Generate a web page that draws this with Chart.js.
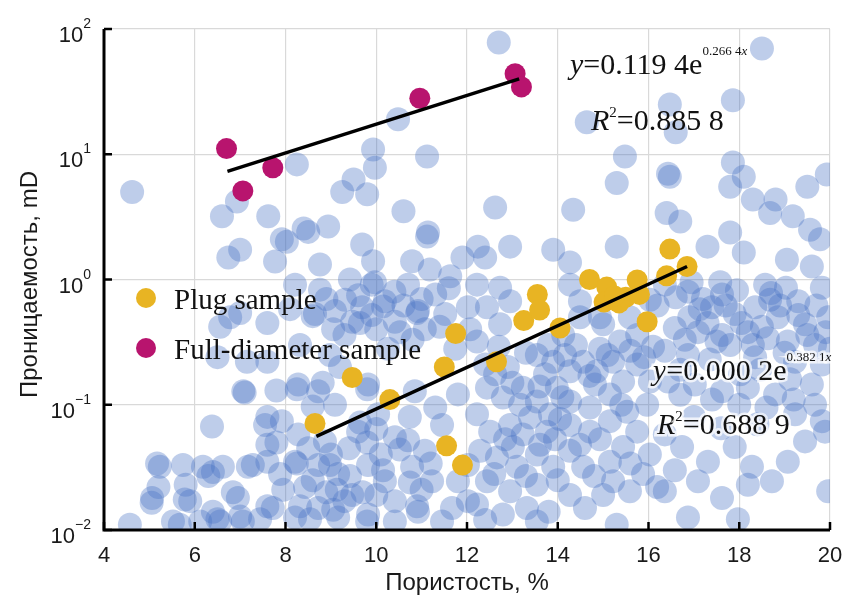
<!DOCTYPE html>
<html>
<head>
<meta charset="UTF-8">
<title>Проницаемость vs Пористость</title>
<script src="https://cdn.jsdelivr.net/npm/chart.js@4.4.1/dist/chart.umd.min.js"></script>
<style>
  body { margin: 0; background: #fff; }
  canvas { display: block; }
</style>
</head>
<body>
<canvas id="main-plot" width="849" height="596"></canvas>
<script>
// axis ticks
const xTicks = [4, 6, 8, 10, 12, 14, 16, 18, 20];
const yTicks = [0.01, 0.1, 1, 10, 100];
const yTickExp = ['\u22122', '\u22121', '0', '1', '2'];

// plug samples (yellow)
const plugSamples = [
  [8.65, 0.071], [9.47, 0.165], [10.3, 0.11], [11.5, 0.2], [11.75, 0.37],
  [11.55, 0.047], [11.9, 0.033], [12.65, 0.22], [13.25, 0.47], [13.55, 0.76],
  [13.6, 0.57], [14.05, 0.41], [14.7, 1.0], [15.08, 0.87], [15.02, 0.66],
  [15.35, 0.65], [15.5, 0.72], [15.25, 0.74], [15.75, 0.99], [15.8, 0.76],
  [15.97, 0.46], [16.4, 1.07], [16.47, 1.75], [16.85, 1.27]
];

// full-diameter samples (magenta)
const fullDiameterSamples = [
  [6.7, 11.1], [7.06, 5.1], [7.72, 7.8], [10.96, 28], [13.06, 44], [13.2, 34.5]
];

// trend lines, end points
const plugFit = [[8.68, 0.056], [16.85, 1.27]];
const fullFit = [[6.72, 7.3], [13.15, 40]];

// equations
const fullEq = { a: '0.119 4', b: '0.266 4', r2: '0.885 8' };
const plugEq = { a: '0.000 2', b: '0.382 1', r2: '0.688 9' };

// all samples of the field (light blue background)
const allSamples = [
  [12.7, 78], [18.5, 70], [16.47, 25], [17.86, 27], [16.6, 15], [14.64, 18], [10.48, 19],
  [9.93, 10.9], [8.25, 8.3], [11.12, 9.6], [9.97, 7.8], [9.5, 6.3], [9.25, 5.0], [9.8, 4.8],
  [10.6, 3.5], [8.5, 2.4], [8.94, 2.65], [11.12, 2.2], [9.69, 1.9], [9.93, 1.4], [8.76, 1.32],
  [10.79, 1.4], [11.9, 1.5], [8.03, 2.0], [4.62, 5.0], [6.93, 4.2], [6.6, 3.2], [7.62, 3.2],
  [7.92, 2.1], [7.0, 1.73], [6.74, 1.5], [7.77, 1.39], [15.3, 5.9], [15.48, 9.6], [12.62, 3.76],
  [14.34, 3.6], [15.3, 1.83], [12.95, 1.83], [12.24, 1.83], [13.9, 1.73], [12.4, 1.5], [14.27, 1.37],
  [16.47, 6.6], [16.43, 7.0], [17.86, 8.6], [18.1, 6.6], [17.8, 5.5], [19.93, 6.9], [19.5, 5.5],
  [16.4, 3.4], [16.7, 2.9], [18.3, 4.35], [18.8, 4.35], [18.68, 3.4], [17.8, 2.37], [19.18, 3.2],
  [19.56, 2.5], [19.78, 2.1], [11.14, 2.37], [17.3, 1.83], [18.1, 1.64], [19.05, 1.44], [19.6, 1.27],
  [11.18, 1.2], [11.63, 1.06], [9.42, 1.0], [9.97, 0.95], [8.4, 2.55],
  [6.78, 0.5], [6.5, 0.24], [7.15, 0.22], [7.6, 0.22], [7.1, 0.125], [7.8, 0.13], [6.38, 0.067],
  [7.55, 0.069], [7.6, 0.048], [7.92, 0.074],
  [7.07, 0.128], [8.25, 0.133], [8.6, 0.097], [7.6, 0.08], [8.82, 0.15], [9.8, 0.133],
  [10.0, 0.064], [10.74, 0.08], [9.2, 0.2], [9.05, 0.4], [9.64, 0.45], [10.15, 0.61], [10.52, 0.38],
  [10.9, 0.54], [8.6, 0.51], [8.1, 0.58], [7.6, 0.45], [7.0, 0.54], [6.56, 0.42],
  [5.17, 0.034], [5.06, 0.018], [5.78, 0.0175], [6.4, 0.029], [6.84, 0.02], [7.28, 0.033],
  [7.8, 0.05], [8.25, 0.034], [8.6, 0.025], [8.98, 0.033], [9.13, 0.021], [9.42, 0.027], [9.7, 0.02],
  [9.8, 0.05], [9.64, 0.072], [10.15, 0.03], [10.52, 0.044], [10.74, 0.024], [10.9, 0.0155],
  [9.05, 0.0145], [8.32, 0.0155], [7.95, 0.021], [7.6, 0.0155], [6.5, 0.0122], [5.52, 0.0117],
  [4.57, 0.011], [9.8, 0.0117], [8.54, 0.0122], [7.06, 0.0117],
  [5.23, 0.032], [5.74, 0.033], [6.18, 0.032], [6.3, 0.027], [6.62, 0.032], [7.17, 0.032],
  [5.2, 0.022], [5.8, 0.023], [5.05, 0.0165], [5.9, 0.017], [6.95, 0.018], [6.4, 0.014],
  [5.67, 0.011], [6.12, 0.0117], [6.56, 0.0117], [7.0, 0.0128], [7.44, 0.0122], [7.72, 0.015],
  [7.88, 0.028], [7.6, 0.035],
  [8.21, 0.91], [8.65, 0.53], [9.09, 0.56], [9.47, 0.46], [9.69, 0.6], [10.19, 0.67], [10.41, 0.46],
  [10.92, 0.56], [11.3, 0.76], [11.52, 0.53], [12.02, 0.6], [10.7, 0.91], [9.9, 0.91],
  [8.28, 0.145], [8.72, 0.128], [9.09, 0.1], [9.82, 0.145], [10.04, 0.084], [10.85, 0.128],
  [11.3, 0.095], [11.8, 0.121], [11.45, 0.069], [8.28, 0.058], [8.87, 0.051], [9.6, 0.061],
  [10.41, 0.055], [11.07, 0.043], [8.21, 0.035], [8.72, 0.033], [9.16, 0.028], [9.82, 0.033],
  [10.19, 0.0245], [10.79, 0.032], [11.23, 0.0245], [11.8, 0.0245], [8.43, 0.022], [9.47, 0.019],
  [10.41, 0.017], [8.72, 0.015], [9.82, 0.0133], [10.92, 0.014], [11.67, 0.015], [8.21, 0.0126],
  [9.16, 0.0126], [10.41, 0.0117], [11.45, 0.0117], [12.02, 0.017], [12.02, 0.033],
  [8.76, 0.83], [9.31, 0.69], [11.07, 0.4], [11.74, 0.28], [8.32, 0.3], [8.98, 0.25], [12.07, 0.4],
  [10.26, 0.28],
  [12.22, 0.91], [12.73, 0.86], [12.95, 0.67], [12.44, 0.6], [12.22, 0.32], [12.73, 0.44],
  [13.54, 0.25], [14.12, 0.36], [14.49, 0.5], [15.0, 0.44], [15.37, 0.32], [15.75, 0.36],
  [16.1, 0.29], [14.27, 0.91], [14.49, 0.67],
  [12.44, 0.137], [12.79, 0.114], [13.23, 0.137], [13.54, 0.106], [13.98, 0.137], [14.27, 0.185],
  [14.56, 0.22], [14.86, 0.185], [15.22, 0.22], [15.44, 0.153], [15.75, 0.21], [16.03, 0.153],
  [15.15, 0.121], [14.71, 0.095], [14.27, 0.106], [13.83, 0.084], [13.39, 0.079], [12.95, 0.069],
  [12.51, 0.061], [12.22, 0.084], [13.23, 0.058], [13.76, 0.061], [14.27, 0.069], [14.71, 0.061],
  [15.15, 0.074], [15.53, 0.088], [15.97, 0.1], [15.75, 0.061],
  [12.29, 0.043], [12.66, 0.038], [13.01, 0.046], [13.1, 0.032], [13.54, 0.04], [13.9, 0.032],
  [14.27, 0.043], [14.56, 0.032], [15.15, 0.035], [15.44, 0.046], [16.03, 0.04], [15.88, 0.028],
  [15.22, 0.0245], [14.27, 0.019], [13.54, 0.023], [12.95, 0.0204], [12.44, 0.0245], [12.22, 0.016],
  [12.79, 0.0133], [13.32, 0.015], [15.0, 0.019], [15.59, 0.0204], [16.19, 0.022], [13.54, 0.0117],
  [15.3, 0.011],
  [12.62, 0.175], [13.72, 0.175], [13.17, 0.1], [14.05, 0.077], [14.49, 0.048], [14.93, 0.053],
  [13.61, 0.048], [12.84, 0.053], [13.94, 0.053], [14.82, 0.145], [14.16, 0.25], [14.93, 0.28],
  [16.36, 0.91], [16.87, 0.8], [17.62, 0.76], [18.57, 0.91], [19.3, 0.67], [19.82, 0.86],
  [17.4, 0.6], [17.9, 0.53], [18.35, 0.6], [18.85, 0.5], [19.45, 0.44], [19.96, 0.5],
  [16.58, 0.41], [17.09, 0.38], [17.62, 0.36], [18.19, 0.38], [18.63, 0.34], [19.07, 0.32],
  [19.67, 0.3], [16.36, 0.27], [16.87, 0.25], [18.35, 0.24], [19.23, 0.22], [19.82, 0.21],
  [16.43, 0.153], [17.02, 0.145], [17.62, 0.128], [18.19, 0.137], [18.79, 0.121], [19.6, 0.145],
  [19.82, 0.074], [19.23, 0.084],
  [16.36, 0.058], [16.74, 0.046], [17.31, 0.035], [16.58, 0.03], [17.9, 0.046], [18.28, 0.032],
  [18.72, 0.0245], [19.07, 0.035], [19.45, 0.051], [19.89, 0.061], [17.09, 0.0245], [16.36, 0.0204],
  [17.62, 0.018], [18.19, 0.023], [19.96, 0.0204], [17.97, 0.0122], [16.87, 0.0126],
  [17.13, 0.58], [17.8, 0.3], [17.35, 0.23], [18.46, 0.19], [19.12, 0.16], [18.02, 0.175],
  [16.7, 0.19], [16.03, 0.69], [20.0, 0.28], [19.67, 0.1], [18.68, 0.69], [17.58, 0.95],
  [19.03, 0.86], [14.93, 0.5], [15.59, 0.5],
  [16.2, 0.62], [16.9, 0.5], [17.3, 0.45], [17.7, 0.62], [18.05, 0.45], [18.5, 0.42], [18.9, 0.62],
  [19.3, 0.52], [19.7, 0.62], [16.6, 0.72], [17.5, 0.32], [18.3, 0.3], [19.0, 0.26], [19.5, 0.36],
  [16.8, 0.33], [17.2, 0.7], [18.7, 0.78], [19.9, 0.38], [17.95, 0.82], [16.95, 0.95],
  [12.9, 0.2], [13.3, 0.26], [13.9, 0.22], [14.4, 0.3], [14.7, 0.17], [15.1, 0.25], [15.6, 0.27],
  [13.0, 0.15], [13.6, 0.14], [14.1, 0.115], [15.4, 0.1], [12.7, 0.29], [13.8, 0.3], [15.9, 0.24],
  [12.4, 0.21],
  [8.9, 0.7], [9.6, 0.75], [10.4, 0.8], [11.0, 0.7], [11.6, 0.85], [9.3, 0.36], [10.0, 0.4],
  [10.8, 0.33], [11.4, 0.42], [9.9, 0.52], [10.6, 0.62],
  [8.5, 0.045], [9.0, 0.04], [9.4, 0.045], [10.1, 0.04], [10.7, 0.052], [11.2, 0.034], [8.9, 0.02],
  [10.0, 0.019], [11.0, 0.021], [9.3, 0.017],
  [12.6, 0.028], [13.3, 0.027], [14.0, 0.025], [14.8, 0.027], [15.6, 0.034], [13.8, 0.014],
  [14.6, 0.015], [12.4, 0.012],
  [16.7, 0.12], [17.4, 0.11], [18.0, 0.1], [18.6, 0.095], [19.2, 0.11], [17.0, 0.08], [18.4, 0.07],
  [17.6, 0.065]
];

const toXY = arr => arr.map(p => ({ x: p[0], y: p[1] }));

const SANS = '"Liberation Sans", Arial, sans-serif';
const SERIF = '"Liberation Serif", "Times New Roman", serif';

// draws axes, tick labels, titles, legend, equations
const decorations = {
  id: 'decorations',
  afterDraw(chart) {
    const { ctx, chartArea: a, scales: { x, y } } = chart;
    ctx.save();

    // black left and bottom axes
    ctx.strokeStyle = '#000';
    ctx.lineWidth = 3;
    ctx.beginPath();
    ctx.moveTo(a.left, a.top);
    ctx.lineTo(a.left, a.bottom);
    ctx.lineTo(a.right, a.bottom);
    ctx.stroke();

    ctx.lineWidth = 2.5;
    ctx.beginPath();
    xTicks.forEach(v => {
      const px = x.getPixelForValue(v);
      ctx.moveTo(px, a.bottom);
      ctx.lineTo(px, a.bottom - 8);
    });
    yTicks.forEach(v => {
      const py = y.getPixelForValue(v);
      ctx.moveTo(a.left, py);
      ctx.lineTo(a.left + 8, py);
    });
    ctx.stroke();

    // x tick labels
    ctx.fillStyle = '#1a1a1a';
    ctx.font = '22px ' + SANS;
    ctx.textAlign = 'center';
    ctx.textBaseline = 'middle';
    xTicks.forEach(v => ctx.fillText(String(v), x.getPixelForValue(v), a.bottom + 26));

    // y tick labels 10^n
    ctx.textBaseline = 'alphabetic';
    yTicks.forEach((v, i) => {
      const py = y.getPixelForValue(v);
      ctx.font = '14px ' + SANS;
      ctx.textAlign = 'right';
      const expRight = a.left - 13;
      ctx.fillText(yTickExp[i], expRight, py - 1);
      const w = ctx.measureText(yTickExp[i]).width;
      ctx.font = '22px ' + SANS;
      ctx.fillText('10', expRight - w, py + 13);
    });

    // axis titles
    ctx.font = '24px ' + SANS;
    ctx.textAlign = 'center';
    ctx.fillText('Пористость, %', (a.left + a.right) / 2, a.bottom + 60);
    ctx.save();
    ctx.translate(37, (a.top + a.bottom) / 2 + 5);
    ctx.rotate(-Math.PI / 2);
    ctx.fillText('Проницаемость, mD', 0, 0);
    ctx.restore();

    // legend
    const legend = [
      ['Plug sample', '#E8B423'],
      ['Full-diameter sample', '#B8146E']
    ];
    ctx.font = '29px ' + SERIF;
    ctx.textAlign = 'left';
    legend.forEach(([label, color], i) => {
      const cy = a.top + 269 + i * 50;
      ctx.fillStyle = color;
      ctx.beginPath();
      ctx.arc(a.left + 42, cy, 10, 0, Math.PI * 2);
      ctx.fill();
      ctx.fillStyle = '#111';
      ctx.fillText(label, a.left + 70, cy + 11);
    });

    // equations
    const drawEq = (eq, xv, yv, ryv, rShift, halo) => {
      const px = x.getPixelForValue(xv);
      const py = y.getPixelForValue(yv);
      const ry = y.getPixelForValue(ryv);
      const parts = [
        ['y', 'italic 30px ', 0],
        ['=' + eq.a + 'e', '30px ', 0],
        [eq.b, '13px ', -19],
        ['x', 'italic 13px ', -19]
      ];
      const rparts = [
        ['R', 'italic 30px ', 0],
        ['2', '15px ', -13],
        ['=' + eq.r2, '30px ', 0]
      ];
      const run = (list, sx, sy) => {
        let cx = sx;
        list.forEach(([t, f, dy]) => {
          ctx.font = f + SERIF;
          if (halo) {
            ctx.strokeStyle = 'rgba(255,255,255,0.75)';
            ctx.lineWidth = 5;
            ctx.strokeText(t, cx, sy + dy);
          }
          ctx.fillStyle = '#111';
          ctx.fillText(t, cx, sy + dy);
          cx += ctx.measureText(t).width;
        });
      };
      run(parts, px, py);
      run(rparts, px + rShift, ry);
    };
    ctx.textAlign = 'left';
    drawEq(fullEq, 14.27, 44, 15.5, 21, false);
    drawEq(plugEq, 16.1, 0.159, 0.058, 4, true);

    ctx.restore();
  }
};

const canvas = document.getElementById('main-plot');
new Chart(canvas.getContext('2d'), {
  type: 'scatter',
  data: {
    datasets: [
      {
        type: 'line', label: 'plug fit', data: toXY(plugFit),
        borderColor: '#000', borderWidth: 3.5, pointRadius: 0, fill: false
      },
      {
        type: 'line', label: 'full fit', data: toXY(fullFit),
        borderColor: '#000', borderWidth: 3.5, pointRadius: 0, fill: false
      },
      {
        label: 'Full-diameter sample', data: toXY(fullDiameterSamples),
        backgroundColor: '#B8146E', borderWidth: 0, pointRadius: 10.5
      },
      {
        label: 'Plug sample', data: toXY(plugSamples),
        backgroundColor: '#E8B423', borderWidth: 0, pointRadius: 10.5
      },
      {
        label: 'all', data: toXY(allSamples), clip: 0,
        backgroundColor: 'rgba(68, 112, 196, 0.35)', borderWidth: 0, pointRadius: 12
      }
    ]
  },
  options: {
    responsive: false,
    animation: false,
    devicePixelRatio: 1,
    layout: { padding: { left: 104, right: 19, top: 29, bottom: 66 } },
    plugins: { legend: { display: false }, tooltip: { enabled: false } },
    scales: {
      x: {
        type: 'linear', min: 4, max: 20,
        afterBuildTicks: s => { s.ticks = xTicks.map(v => ({ value: v })); },
        ticks: { display: false },
        grid: { color: '#d9d9d9', lineWidth: 1.2, drawTicks: false },
        border: { display: false }
      },
      y: {
        type: 'logarithmic', min: 0.01, max: 100,
        afterBuildTicks: s => { s.ticks = yTicks.map(v => ({ value: v })); },
        ticks: { display: false },
        grid: { color: '#d9d9d9', lineWidth: 1.2, drawTicks: false },
        border: { display: false }
      }
    }
  },
  plugins: [decorations]
});
</script>
</body>
</html>
